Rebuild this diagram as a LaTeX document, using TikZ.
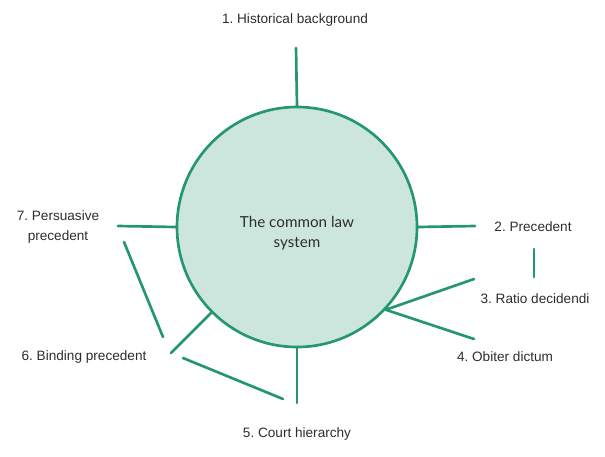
\documentclass[tikz,border=0pt]{standalone}
\usepackage{fontspec}
\setmainfont{Liberation Sans}
\newfontfamily\hubfont{Lato}
\usepackage{xcolor}
\usepackage{tikz}
\usetikzlibrary{positioning, calc}
\definecolor{lawgreen}{RGB}{36,150,114}
\definecolor{lawfill}{RGB}{204,230,222}
\definecolor{labelgray}{RGB}{45,45,45}
\frenchspacing

\begin{document}
\begin{tikzpicture}[
    x=0.75pt, y=-0.75pt,
    font=\fontsize{10.2}{15}\selectfont,
    hub/.style={circle, draw=lawgreen, fill=lawfill, line width=2pt,
                minimum size=180pt, inner sep=0pt},
    hubtext/.style={align=center, text=labelgray,
                    font=\hubfont\fontsize{11.4}{15}\selectfont},
    lbl/.style={align=center, text=labelgray, inner sep=1pt},
    spoke/.style={draw=lawgreen, line width=2pt, line cap=round}]
    \useasboundingbox (0,0) rectangle (605,456);
    \node[hub] (sys) at (297,227) {};
    \node[hubtext] (systxt) at (297,233) {The common law\\system};
    \node[lbl] (hist) at (295,20)  {1. Historical background};
    \node[lbl] (prec) at (533,227) {2. Precedent};
    \node[lbl] (rat)  at (535,299) {3. Ratio decidendi};
    \node[lbl] (obi)  at (505,357) {4. Obiter dictum};
    \node[lbl] (crt)  at (297,434) {5. Court hierarchy};
    \node[lbl] (bind) at (84,357)  {6. Binding precedent};
    \node[lbl] (pers) at (58,227)  {7. Persuasive\\precedent};
    % free ends of the strokes
    \coordinate (histend) at (296,48);
    \coordinate (precend) at (475,226);
    \coordinate (pra)     at (534,249);
    \coordinate (prb)     at (534,277);
    \coordinate (ratend)  at (474,279);
    \coordinate (obiend)  at (474,339);
    \coordinate (crtend)  at (297,403);
    \coordinate (bindend) at (171,353);
    \coordinate (bca)     at (183,358);
    \coordinate (bcb)     at (283,399);
    \coordinate (pba)     at (124,242);
    \coordinate (pbb)     at (163,337);
    \coordinate (persend) at (118,226);
    \draw[spoke] (sys.90) -- (histend);
    \draw[spoke] (sys.0) -- (precend);
    \draw[spoke] (pra) -- (prb);
    \draw[spoke] (sys.-43) -- (ratend);
    \draw[spoke] (sys.-43) -- (obiend);
    \draw[spoke] (sys.-90) -- (crtend);
    \draw[spoke] (sys.-135) -- (bindend);
    \draw[spoke] (bca) -- (bcb);
    \draw[spoke] (pba) -- (pbb);
    \draw[spoke] (sys.180) -- (persend);
\end{tikzpicture}
\end{document}
